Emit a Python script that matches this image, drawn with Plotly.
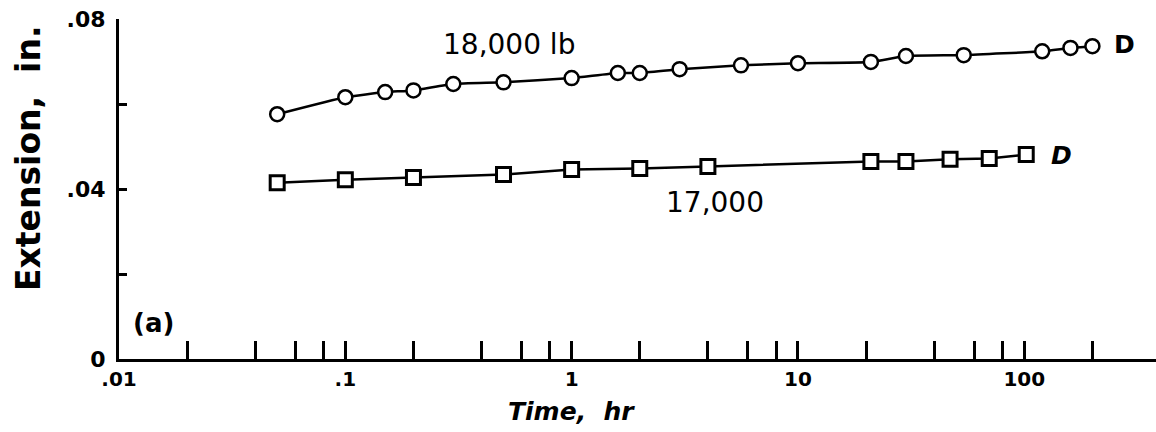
import numpy as np
import plotly.graph_objects as go

# ---- data ----
t_18000 = [0.05, 0.1, 0.15, 0.2, 0.3, 0.5, 1, 1.6, 2, 3, 5.6, 10, 21, 30, 54, 120, 160, 200]
e_18000 = [0.0576, 0.0616, 0.0628, 0.0632, 0.0647, 0.0651, 0.0661, 0.0673, 0.0673, 0.0682,
           0.0691, 0.0696, 0.0699, 0.0713, 0.0715, 0.0724, 0.0732, 0.0736]

t_17000 = [0.05, 0.1, 0.2, 0.5, 1, 2, 4, 21, 30, 47, 70, 102]
e_17000 = [0.0415, 0.0422, 0.0427, 0.0434, 0.0446, 0.0448, 0.0453, 0.0465, 0.0465, 0.0470,
           0.0472, 0.0481]

x_tickvals = [0.01, 0.02, 0.04, 0.06, 0.08, 0.1, 0.2, 0.4, 0.6, 0.8, 1, 2, 4, 6, 8, 10,
              20, 40, 60, 80, 100, 200]
x_ticktext = [".01", "", "", "", "", ".1", "", "", "", "", "1", "", "", "", "", "10",
              "", "", "", "", "100", ""]
y_tickvals = [0, 0.02, 0.04, 0.06, 0.08]
y_ticktext = ["0", "", ".04", "", ".08"]

FONT = "DejaVu Sans"

fig = go.Figure()
fig.add_trace(go.Scatter(
    x=t_18000, y=e_18000, mode="lines+markers", name="18,000 lb",
    line=dict(color="black", width=2.5, shape="spline", smoothing=0.4),
    marker=dict(symbol="circle", size=14, color="white", line=dict(color="black", width=2.5)),
))
fig.add_trace(go.Scatter(
    x=t_17000, y=e_17000, mode="lines+markers", name="17,000",
    line=dict(color="black", width=2.5),
    marker=dict(symbol="square", size=14, color="white", line=dict(color="black", width=3)),
))

ann = [
    dict(x=np.log10(0.527), y=0.0739, text="18,000 lb", font=dict(size=28)),
    dict(x=np.log10(4.29), y=0.0369, text="17,000", font=dict(size=28)),
    dict(x=np.log10(278), y=0.0739, text="<b>D</b>", font=dict(size=25)),
    dict(x=np.log10(146), y=0.0478, text="<b><i>D</i></b>", font=dict(size=25)),
    dict(x=np.log10(0.0142), y=0.0085, text="<b>(a)</b>", font=dict(size=26)),
]
for a in ann:
    a.update(xref="x", yref="y", showarrow=False, xanchor="center", yanchor="middle")
    a["font"].update(family=FONT, color="black")
    fig.add_annotation(**a)

L, R, T, B = 119, 0, 19, 73
W, H = 1156, 432
PW, PH = W - L - R, H - T - B

# axis titles as annotations (positioned like the reference), pixel -> paper
def px_to_paper(px, py):
    return (px - L) / PW, (H - B - py) / PH

yx, yy = px_to_paper(28, 159)
fig.add_annotation(x=yx, y=yy, xref="paper", yref="paper", text="<b>Extension,  in.</b>",
                   textangle=-90, showarrow=False, xanchor="center", yanchor="middle",
                   font=dict(family=FONT, size=33, color="black"))
xx, xy = px_to_paper(571, 412)
fig.add_annotation(x=xx, y=xy, xref="paper", yref="paper", text="<b><i>Time,  hr</i></b>",
                   showarrow=False, xanchor="center", yanchor="middle",
                   font=dict(family=FONT, size=25, color="black"))

fig.update_layout(
    width=W, height=H,
    margin=dict(l=L, r=R, t=T, b=B, autoexpand=False),
    plot_bgcolor="white", paper_bgcolor="white",
    showlegend=False,
    font=dict(family=FONT, color="black"),
)
fig.update_xaxes(
    type="log", range=[-2, 2.582], automargin=False,
    tickvals=x_tickvals, ticktext=x_ticktext,
    ticks="inside", ticklen=18, tickwidth=2.5, tickcolor="black",
    showline=True, linecolor="black", linewidth=3,
    showgrid=False, zeroline=False,
    tickfont=dict(family=FONT, size=20, color="black", weight="bold"),
    ticklabelstandoff=0,
)
fig.update_yaxes(
    range=[0, 0.08], automargin=False,
    tickvals=y_tickvals, ticktext=y_ticktext,
    ticks="inside", ticklen=8, tickwidth=3, tickcolor="black",
    showline=True, linecolor="black", linewidth=3,
    showgrid=False, zeroline=False,
    tickfont=dict(family=FONT, size=22, color="black", weight="bold"),
    ticklabelstandoff=6,
)

fig.write_html(
    "out.html",
    config={"displayModeBar": False},
    post_script="document.body.style.margin='0';document.body.style.overflow='hidden';",
)
